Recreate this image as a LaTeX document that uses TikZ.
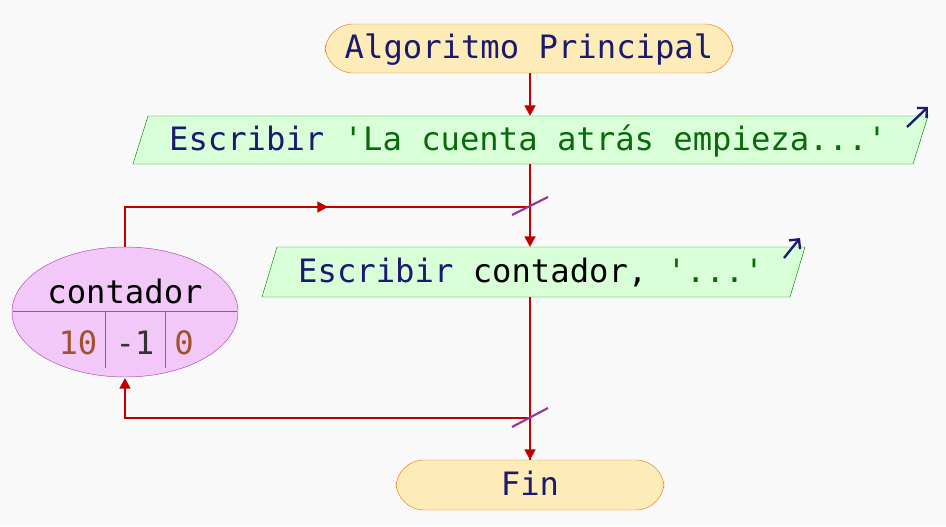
\documentclass[tikz,border=0pt]{standalone}
\usepackage{fontspec}
\setmonofont{DejaVu Sans Mono}
\usetikzlibrary{arrows.meta}
\definecolor{ln}{HTML}{C00000}
\definecolor{kw}{HTML}{1A1A70}
\definecolor{st}{HTML}{0A6A0A}
\definecolor{nm}{HTML}{A0522D}
\definecolor{vf}{HTML}{F2C8F8}
\definecolor{tf}{HTML}{FDEBB8}
\tikzset{
 term/.style={draw=orange!70!brown, fill=tf, rounded corners=24pt},
 io/.style={draw=green!55!black, fill=green!15},
 flow/.style={ln, line width=2.4pt},
 tip/.style={-{Triangle[length=9pt,width=9pt]}},
 txt/.style={font=\ttfamily\fontsize{27.5}{30}\selectfont, inner sep=0pt, anchor=base},
 slash/.style={violet!80, line width=1.8pt},
 outarr/.style={kw, line width=2pt, -{Straight Barb[length=6pt]}}
}
\begin{document}
\begin{tikzpicture}[x=0.03cm,y=-0.03cm]
\useasboundingbox[fill=gray!5] (0,0) rectangle (946,526);
% start
\draw[term] (325,24) rectangle (733,73);
\node[txt] (start) at (529,58) {\textcolor{kw}{Algoritmo Principal}};
% output 1
\draw[io] (148,116) -- (928,116) -- (913,164) -- (133,164) -- cycle;
\node[txt] (o1) at (528,150) {\textcolor{kw}{Escribir} \textcolor{st}{'La cuenta atrás empieza...'}};
\draw[outarr] (907,127) -- (928,107);
% output 2
\draw[io] (277,247) -- (805,247) -- (790,297) -- (262,297) -- cycle;
\node[txt] (o2) at (531,282) {\textcolor{kw}{Escribir} contador, \textcolor{st}{'...'}};
\draw[outarr] (784,258) -- (800,238);
% end
\draw[term] (396,460) rectangle (664,510);
\node[txt] (fin) at (530,495) {\textcolor{kw}{Fin}};
% ellipse
\draw[violet!70, fill=vf] (125,312) ellipse [x radius=113, y radius=65];
\draw[violet!70] (13,311) -- (237,311);
\draw[violet!70] (105,311) -- (105,368) (165,311) -- (165,368);
\node[txt] (cont) at (125,303) {contador};
\node[txt] (v1) at (78,354) {\textcolor{nm}{10}};
\node[txt] (v2) at (135,354) {\textcolor{black!80}{-1}};
\node[txt] (v3) at (184,354) {\textcolor{nm}{0}};
\coordinate (et) at (125,247);
\coordinate (eb) at (125,378);
% flow
\draw[flow,tip] (530,73) -- (530,116);
\draw[flow,tip] (530,164) -- (530,247);
\draw[flow] (530,297) -- (530,460);
\draw[flow,tip] (530,440) -- (530,460);
\draw[flow] (et) -- (125,207) -- (530,207);
\draw[flow,tip] (125,207) -- (328,207);
\draw[flow,tip] (530,418) -- (125,418) -- (eb);
\draw[slash] (512,215) -- (548,197);
\draw[slash] (512,427) -- (548,408);
\end{tikzpicture}
\end{document}
